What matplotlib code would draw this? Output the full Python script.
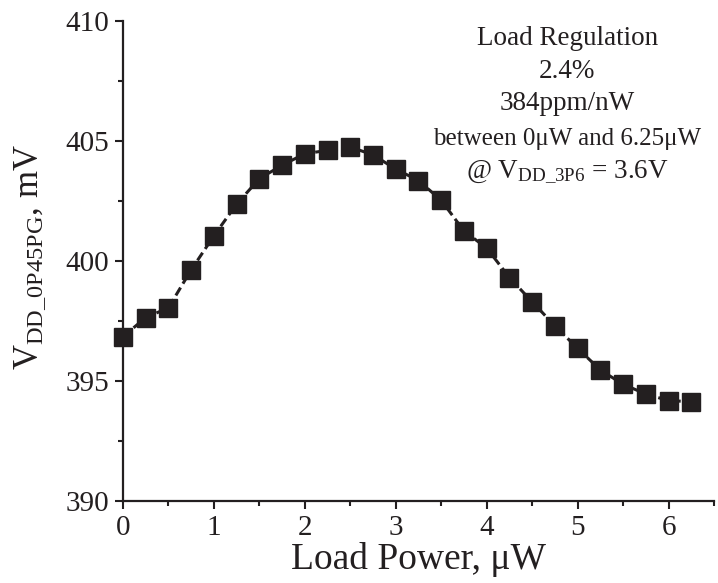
import matplotlib
matplotlib.use("Agg")
import matplotlib.pyplot as plt
from matplotlib.ticker import MultipleLocator

plt.rcParams['font.family'] = ['Liberation Serif', 'DejaVu Serif']
plt.rcParams['mathtext.fontset'] = 'custom'
plt.rcParams['mathtext.rm'] = 'Liberation Serif'
plt.rcParams['mathtext.it'] = 'Liberation Serif:italic'

load_power = [0, 0.25, 0.5, 0.75, 1.0, 1.25, 1.5, 1.75, 2.0, 2.25, 2.5, 2.75, 3.0,
              3.25, 3.5, 3.75, 4.0, 4.25, 4.5, 4.75, 5.0, 5.25, 5.5, 5.75, 6.0, 6.25]
vdd_mv = [396.85, 397.64, 398.05, 399.63, 401.05, 402.37, 403.43, 403.99, 404.47,
          404.61, 404.75, 404.42, 403.83, 403.35, 402.53, 401.25, 400.54, 399.31,
          398.30, 397.30, 396.36, 395.46, 394.86, 394.46, 394.18, 394.14]
x_ticks = [0, 1, 2, 3, 4, 5, 6]
y_ticks = [390, 395, 400, 405, 410]
note_lines = ['Load Regulation', '2.4%', '384ppm/nW',
              'between 0\u03bcW and 6.25\u03bcW',
              r'@ V$_{\mathrm{DD\_3P6}}$ = 3.6V']

fig = plt.figure(figsize=(7.18, 5.83), dpi=100)
ax = fig.add_axes([0.1713, 0.1407, 0.8231, 0.8233])

ax.plot(load_power, vdd_mv, color='#231f20', lw=2.2, ls=(0, (3, 1.5)),
        marker='s', markersize=12.5, markerfacecolor='#231f20',
        markeredgecolor='#231f20', clip_on=False, zorder=3)

ax.set_xlim(0, 6.5)
ax.set_ylim(390, 410)
ax.set_xticks(x_ticks)
ax.set_yticks(y_ticks)
ax.xaxis.set_minor_locator(MultipleLocator(0.5))
ax.yaxis.set_minor_locator(MultipleLocator(2.5))

for s in ['top', 'right']:
    ax.spines[s].set_visible(False)
for s in ['left', 'bottom']:
    ax.spines[s].set_linewidth(1.6)
    ax.spines[s].set_color('#231f20')

ax.tick_params(which='major', direction='out', length=6, width=1.5,
               labelsize=21, colors='#231f20', pad=4)
ax.tick_params(which='minor', direction='out', length=3.5, width=1.5,
               colors='#231f20')

ax.set_xlabel('Load Power, \u03bcW', fontsize=27, color='#231f20', labelpad=1)
ax.set_ylabel(r'V$_{\mathrm{DD\_0P45PG}}$, mV', fontsize=25, color='#231f20')
ax.yaxis.set_label_coords(-0.127, 0.507)

note_y = [0.95, 0.881, 0.815, 0.742, 0.675]
note_fs = [19.5, 19.5, 19.5, 18, 19.5]
for txt, yy, fs in zip(note_lines, note_y, note_fs):
    ax.text(0.752, yy, txt, transform=ax.transAxes, ha='center', va='baseline',
            fontsize=fs, color='#231f20')

fig.savefig('out.png', dpi=100)
